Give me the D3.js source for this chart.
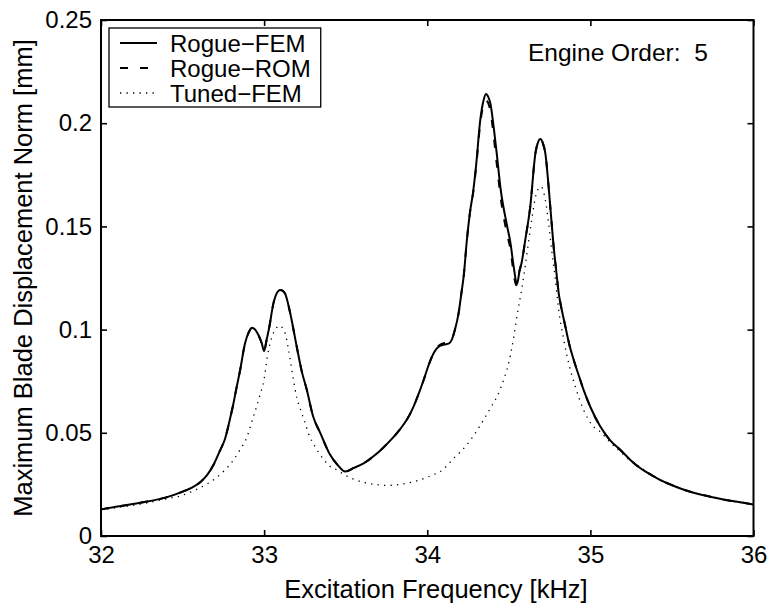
<!DOCTYPE html>
<html>
<head>
<meta charset="utf-8">
<script src="https://cdn.jsdelivr.net/npm/d3@7"></script>
<style>
  html, body { margin: 0; padding: 0; background: #fff; }
  svg { display: block; font-family: "Liberation Sans", Arial, Helvetica, sans-serif; }
</style>
</head>
<body>
<svg id="chart" width="772" height="608"></svg>
<script>
// ---------- data ----------
const femFreq = [32.00,32.10,32.24,32.40,32.50,32.56,32.61,32.65,32.69,32.73,32.76,32.79,32.81,32.83,32.853,32.883,32.905,32.925,32.945,32.965,32.985,33.000,33.015,33.030,33.057,33.080,33.098,33.115,33.130,33.160,33.200,33.230,33.262,33.300,33.344,33.400,33.450,33.497,33.550,33.610,33.680,33.730,33.780,33.834,33.880,33.916,33.950,33.978,34.005,34.029,34.055,34.080,34.105,34.131,34.150,34.170,34.192,34.210,34.223,34.243,34.264,34.280,34.300,34.325,34.345,34.360,34.375,34.387,34.407,34.425,34.450,34.490,34.510,34.530,34.550,34.565,34.580,34.600,34.632,34.663,34.680,34.693,34.710,34.724,34.744,34.760,34.775,34.790,34.806,34.816,34.847,34.870,34.898,34.930,34.959,35.000,35.061,35.120,35.184,35.250,35.307,35.380,35.450,35.520,35.593,35.680,35.757,35.850,35.930,36.000];
const femVal  = [0.0129,0.0143,0.0161,0.0187,0.0215,0.0236,0.0262,0.0295,0.0345,0.0415,0.0470,0.0565,0.0635,0.0715,0.0804,0.0934,0.0985,0.1009,0.1000,0.0974,0.0935,0.0896,0.0950,0.1005,0.1127,0.1180,0.1192,0.1188,0.1172,0.1079,0.0917,0.0800,0.0707,0.0580,0.0500,0.0400,0.0345,0.0312,0.0330,0.0352,0.0392,0.0428,0.0468,0.0518,0.0570,0.0627,0.0695,0.0756,0.0820,0.0869,0.0905,0.0922,0.0928,0.0932,0.0950,0.1000,0.1079,0.1180,0.1256,0.1434,0.1580,0.1660,0.1800,0.2016,0.2110,0.2141,0.2125,0.2096,0.1983,0.1860,0.1680,0.1500,0.1420,0.1305,0.1220,0.1280,0.1330,0.1430,0.1600,0.1854,0.1910,0.1923,0.1900,0.1854,0.1692,0.1540,0.1400,0.1290,0.1176,0.1130,0.1014,0.0930,0.0853,0.0775,0.0707,0.0625,0.0530,0.0465,0.0417,0.0365,0.0328,0.0293,0.0263,0.0240,0.0219,0.0200,0.0187,0.0172,0.0162,0.0153];

const romFreq = [32.00,32.10,32.24,32.40,32.50,32.56,32.61,32.65,32.69,32.73,32.76,32.79,32.81,32.83,32.853,32.883,32.905,32.925,32.945,32.965,32.985,33.000,33.015,33.030,33.057,33.080,33.098,33.115,33.130,33.160,33.200,33.230,33.262,33.300,33.344,33.400,33.450,33.497,33.550,33.610,33.680,33.730,33.780,33.834,33.880,33.916,33.950,33.978,34.005,34.029,34.055,34.080,34.105,34.131,34.150,34.170,34.192,34.210,34.223,34.243,34.264,34.280,34.300,34.325,34.345,34.357,34.375,34.387,34.407,34.425,34.450,34.490,34.510,34.530,34.545,34.565,34.580,34.600,34.632,34.663,34.680,34.693,34.710,34.724,34.744,34.760,34.775,34.790,34.806,34.816,34.847,34.870,34.898,34.930,34.959,35.000,35.061,35.120,35.184,35.250,35.307,35.380,35.450,35.520,35.593,35.680,35.757,35.850,35.930,36.000];
const romVal  = [0.0129,0.0143,0.0161,0.0187,0.0215,0.0236,0.0262,0.0295,0.0345,0.0415,0.0470,0.0565,0.0635,0.0715,0.0804,0.0934,0.0985,0.1009,0.1000,0.0974,0.0935,0.0896,0.0950,0.1005,0.1127,0.1180,0.1192,0.1188,0.1172,0.1079,0.0917,0.0800,0.0707,0.0580,0.0500,0.0400,0.0345,0.0312,0.0330,0.0352,0.0392,0.0428,0.0468,0.0518,0.0570,0.0627,0.0695,0.0756,0.0820,0.0869,0.0908,0.0928,0.0935,0.0938,0.0952,0.1000,0.1079,0.1180,0.1256,0.1434,0.1580,0.1655,0.1790,0.2000,0.2090,0.2112,0.2095,0.2060,0.1940,0.1810,0.1640,0.1460,0.1390,0.1270,0.1215,0.1285,0.1330,0.1430,0.1600,0.1854,0.1910,0.1923,0.1900,0.1854,0.1692,0.1540,0.1400,0.1290,0.1176,0.1130,0.1014,0.0930,0.0853,0.0775,0.0707,0.0625,0.0530,0.0465,0.0417,0.0365,0.0328,0.0293,0.0263,0.0240,0.0219,0.0200,0.0187,0.0172,0.0162,0.0153];

const tunedFreq = [32.00,32.10,32.24,32.40,32.485,32.587,32.65,32.71,32.76,32.81,32.85,32.894,32.934,32.955,32.975,33.000,33.020,33.037,33.055,33.075,33.098,33.115,33.129,33.150,33.165,33.180,33.200,33.220,33.250,33.280,33.300,33.364,33.400,33.450,33.500,33.550,33.620,33.700,33.750,33.800,33.870,33.940,34.000,34.040,34.080,34.120,34.161,34.200,34.233,34.265,34.294,34.320,34.345,34.387,34.437,34.468,34.499,34.520,34.540,34.560,34.580,34.600,34.620,34.642,34.660,34.673,34.687,34.700,34.712,34.724,34.744,34.765,34.785,34.806,34.837,34.867,34.908,34.959,35.010,35.061,35.120,35.184,35.250,35.307,35.380,35.450,35.520,35.593,35.680,35.757,35.850,35.930,36.000];
const tunedVal  = [0.0125,0.0138,0.0154,0.0180,0.0194,0.0226,0.0252,0.0284,0.0320,0.0366,0.0415,0.0478,0.0578,0.0630,0.0685,0.0760,0.0870,0.0934,0.0980,0.1008,0.1019,0.1005,0.0982,0.0901,0.0830,0.0756,0.0670,0.0620,0.0550,0.0480,0.0450,0.0372,0.0340,0.0318,0.0293,0.0275,0.0258,0.0248,0.0245,0.0247,0.0255,0.0268,0.0285,0.0298,0.0312,0.0340,0.0376,0.0405,0.0433,0.0465,0.0497,0.0530,0.0562,0.0619,0.0691,0.0756,0.0837,0.0917,0.1014,0.1111,0.1200,0.1305,0.1418,0.1540,0.1630,0.1668,0.1688,0.1692,0.1670,0.1628,0.1515,0.1370,0.1245,0.1095,0.0950,0.0837,0.0723,0.0610,0.0538,0.0505,0.0455,0.0408,0.0362,0.0333,0.0293,0.0263,0.0240,0.0219,0.0200,0.0186,0.0171,0.0161,0.0152];

const xTicks = [32, 33, 34, 35, 36];
const xTickLabels = ["32", "33", "34", "35", "36"];
const yTicks = [0, 0.05, 0.1, 0.15, 0.2, 0.25];
const yTickLabels = ["0", "0.05", "0.1", "0.15", "0.2", "0.25"];
const seriesNames = ["Rogue\u2212FEM", "Rogue\u2212ROM", "Tuned\u2212FEM"];
const xLabel = "Excitation Frequency [kHz]";
const yLabel = "Maximum Blade Displacement Norm [mm]";
const annotation = "Engine Order:  5";

// ---------- layout ----------
const svg = d3.select("#chart");
const L = 101, R = 753.5, T = 20, B = 536;
const FS = 24;
const x = d3.scaleLinear().domain([32, 36]).range([L, R]);
const y = d3.scaleLinear().domain([0, 0.25]).range([B, T]);

svg.append("rect").attr("width", 772).attr("height", 608).attr("fill", "#fff");

const line = d3.line().x(d => x(d[0])).y(d => y(d[1])).curve(d3.curveMonotoneX);
const zip = (a, b) => a.map((v, i) => [v, b[i]]);

const styles = [
  { data: zip(femFreq, femVal), dash: null, width: 2 },
  { data: zip(romFreq, romVal), dash: "8,12", width: 2 },
  { data: zip(tunedFreq, tunedVal), dash: "1.3,5.2", width: 1.3 }
];

const plot = svg.append("g");
styles.forEach(s => {
  plot.append("path")
    .attr("d", line(s.data))
    .attr("fill", "none")
    .attr("stroke", "#000")
    .attr("stroke-width", s.width)
    .attr("stroke-linejoin", "round")
    .attr("stroke-dasharray", s.dash);
});

// ---------- axes ----------
function styleAxis(g) {
  g.select(".domain").remove();
  g.selectAll(".tick line").attr("stroke", "#000").attr("stroke-width", 1.6);
  g.selectAll(".tick text").attr("fill", "#000").attr("font-size", FS)
    .attr("font-family", "Liberation Sans, Arial, Helvetica, sans-serif");
}
svg.append("g").attr("transform", `translate(0,${B})`)
  .call(d3.axisBottom(x).tickValues(xTicks).tickSize(-6).tickPadding(10)
    .tickFormat((d, i) => xTickLabels[i]))
  .call(styleAxis);
svg.append("g").attr("transform", `translate(0,${T})`)
  .call(d3.axisTop(x).tickValues(xTicks).tickSize(-6).tickFormat(""))
  .call(styleAxis);
svg.append("g").attr("transform", `translate(${L},0)`)
  .call(d3.axisLeft(y).tickValues(yTicks).tickSize(-6).tickPadding(9)
    .tickFormat((d, i) => yTickLabels[i]))
  .call(styleAxis);
svg.append("g").attr("transform", `translate(${R},0)`)
  .call(d3.axisRight(y).tickValues(yTicks).tickSize(-6).tickFormat(""))
  .call(styleAxis);

svg.append("rect").attr("x", L).attr("y", T).attr("width", R - L).attr("height", B - T)
  .attr("fill", "none").attr("stroke", "#000").attr("stroke-width", 2);

// ---------- labels ----------
svg.append("text").attr("x", 436).attr("y", 598).attr("text-anchor", "middle")
  .attr("font-size", 25.5).text(xLabel);
svg.append("text").attr("transform", `translate(32,${(T + B) / 2}) rotate(-90)`)
  .attr("text-anchor", "middle").attr("font-size", 25.5).text(yLabel);
svg.append("text").attr("x", 528).attr("y", 61).attr("font-size", 24.5)
  .style("white-space", "pre").text(annotation);

// ---------- legend ----------
const lg = svg.append("g");
const rowY = [43, 68, 93];
const texts = [];
seriesNames.forEach((name, i) => {
  lg.append("line").attr("x1", 120).attr("x2", 157).attr("y1", rowY[i]).attr("y2", rowY[i])
    .attr("stroke", "#000").attr("stroke-width", styles[i].width)
    .attr("stroke-dasharray", styles[i].dash);
  texts.push(lg.append("text").attr("x", 170).attr("y", rowY[i]).attr("dy", "0.36em")
    .attr("font-size", FS).text(name));
});
const maxW = d3.max(texts, t => t.node().getComputedTextLength());
lg.insert("rect", ":first-child").attr("x", 109).attr("y", 28)
  .attr("width", 170 + maxW + 10 - 109).attr("height", 107 - 28)
  .attr("fill", "#fff").attr("stroke", "#000").attr("stroke-width", 1.3);
</script>
</body>
</html>
